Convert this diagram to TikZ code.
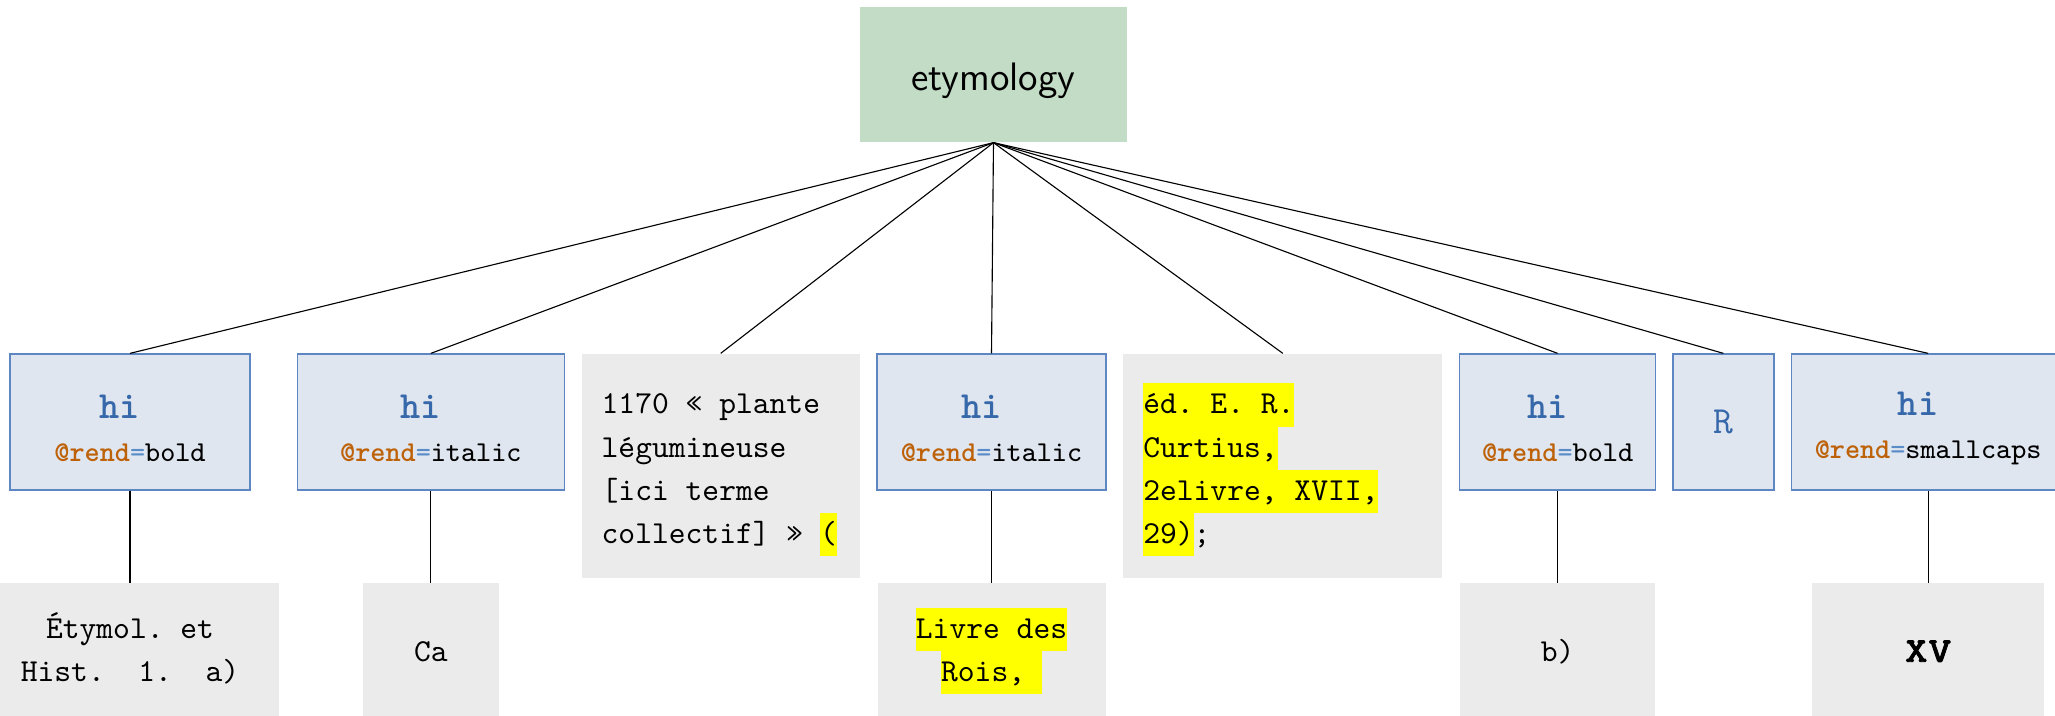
\documentclass[tikz,border=0pt]{standalone}
\usepackage{fontspec}
\usetikzlibrary{positioning}

\newfontfamily\scttfont{lmmonocaps10-regular.otf}[FakeBold=2]
\frenchspacing

\definecolor{rootgreen}{RGB}{194,220,197}
\definecolor{tagfill}{RGB}{223,230,240}
\definecolor{tagdraw}{RGB}{94,134,194}
\definecolor{tagblue}{RGB}{54,104,170}
\definecolor{attrorange}{RGB}{190,98,10}
\definecolor{eqblue}{RGB}{90,140,200}
\definecolor{textgray}{RGB}{235,235,235}
\definecolor{hlyellow}{RGB}{255,255,0}

\newcommand{\lnstrut}{\vrule height 9.5pt depth 4pt width 0pt\relax}
\newcommand{\firststrut}{\vrule height 11.9pt depth 4pt width 0pt\relax}
\newcommand{\monospaces}{\spaceskip=0pt\xspaceskip=0pt\relax}
\newcommand{\hl}[1]{{\setlength{\fboxsep}{0pt}\colorbox{hlyellow}{\lnstrut #1}}}
\newcommand{\tagname}[1]{{\fontsize{12}{14}\selectfont\bfseries\color{tagblue}\rule{0pt}{11.3pt}#1}}
\newcommand{\rendval}[1]{{\fontsize{9}{11}\selectfont{\bfseries\color{attrorange}@rend}{\color{eqblue}=}#1}}

\begin{document}
\begin{tikzpicture}[
    node distance=28.75pt and 5pt,
    root/.style={rectangle, fill=rootgreen, minimum width=83.4pt, minimum height=42.2pt, text height=10pt, text depth=0pt, font=\sffamily\fontsize{12.4}{15}\selectfont},
    tagbox/.style={rectangle, draw=tagdraw, fill=tagfill, line width=0.4pt, minimum height=42.5pt, align=center, font=\ttfamily},
    textbox/.style={rectangle, fill=textgray, minimum height=70pt, inner xsep=6.25pt, align=left, font=\ttfamily\fontsize{10}{13.5}\selectfont},
    leaf/.style={rectangle, fill=textgray, minimum height=42.5pt, align=center, font=\ttfamily\fontsize{10}{13.5}\selectfont},
    edge/.style={draw=black, line width=0.35pt}
]

\useasboundingbox (0,0) rectangle (642.2pt,-223.75pt);

% Root
\node[root] (etym) at (310.47pt,-23.28pt) {etymology};

% Children
\node[tagbox, minimum width=75pt] (hi1) at (40.63pt,-131.88pt) {\tagname{hi\phantom{i}}\\[1.4pt]\rendval{bold}};
\node[tagbox, minimum width=83.44pt, right=14.4pt of hi1.north east, anchor=north west] (hi2) {\tagname{hi\phantom{i}}\\[1.4pt]\rendval{italic}};
\node[textbox, text width=74.4pt, right=of hi2.north east, anchor=north west] (txt1) {\monospaces\firststrut 1170 « plante\\\lnstrut légumineuse\\\lnstrut [ici terme\\\lnstrut collectif] » \hl{(}};
\node[tagbox, minimum width=71.56pt, right=of txt1.north east, anchor=north west] (hi4) {\tagname{hi\phantom{i}}\\[1.4pt]\rendval{italic}};
\node[textbox, text width=87.2pt, right=of hi4.north east, anchor=north west] (txt2) {\monospaces\firststrut\hl{éd. E. R.}\\\hl{Curtius,}\\\hl{2elivre, XVII,}\\\hl{29)};};
\node[tagbox, minimum width=61.25pt, right=of txt2.north east, anchor=north west] (hi6) {\tagname{hi\phantom{i}}\\[1.4pt]\rendval{bold}};
\node[tagbox, minimum width=31.56pt, right=of hi6.north east, anchor=north west] (rr) {{\fontsize{12}{14}\selectfont\color{tagblue}R}};
\node[tagbox, minimum width=85.63pt, right=of rr.north east, anchor=north west] (hi8) {\tagname{hi\phantom{i}}\\[1.4pt]\rendval{smallcaps}};

% Leaves
\node[leaf, minimum width=93.1pt, below=of hi1] (lf1) {\lnstrut Étymol. et\\\lnstrut Hist.\ \ 1.\ \ a)};
\node[leaf, minimum width=42.5pt, below=of hi2] (lf2) {Ca};
\node[leaf, minimum width=71.25pt, below=of hi4] (lf4) {\hl{Livre des}\\\hl{Rois,\ }};
\node[leaf, minimum width=60.9pt, below=of hi6] (lf6) {b)};
\node[leaf, minimum width=72.5pt, below=of hi8] (lf8) {\scttfont\fontsize{14}{16}\selectfont xv};

% Connections
\draw[edge] (etym.south) -- (hi1.north);
\draw[edge] (etym.south) -- (hi2.north);
\draw[edge] (etym.south) -- (txt1.north);
\draw[edge] (etym.south) -- (hi4.north);
\draw[edge] (etym.south) -- (txt2.north);
\draw[edge] (etym.south) -- (hi6.north);
\draw[edge] (etym.south) -- (rr.north);
\draw[edge] (etym.south) -- (hi8.north);
\draw[edge] (hi1) -- (lf1);
\draw[edge] (hi2) -- (lf2);
\draw[edge] (hi4) -- (lf4);
\draw[edge] (hi6) -- (lf6);
\draw[edge] (hi8) -- (lf8);

\end{tikzpicture}
\end{document}
